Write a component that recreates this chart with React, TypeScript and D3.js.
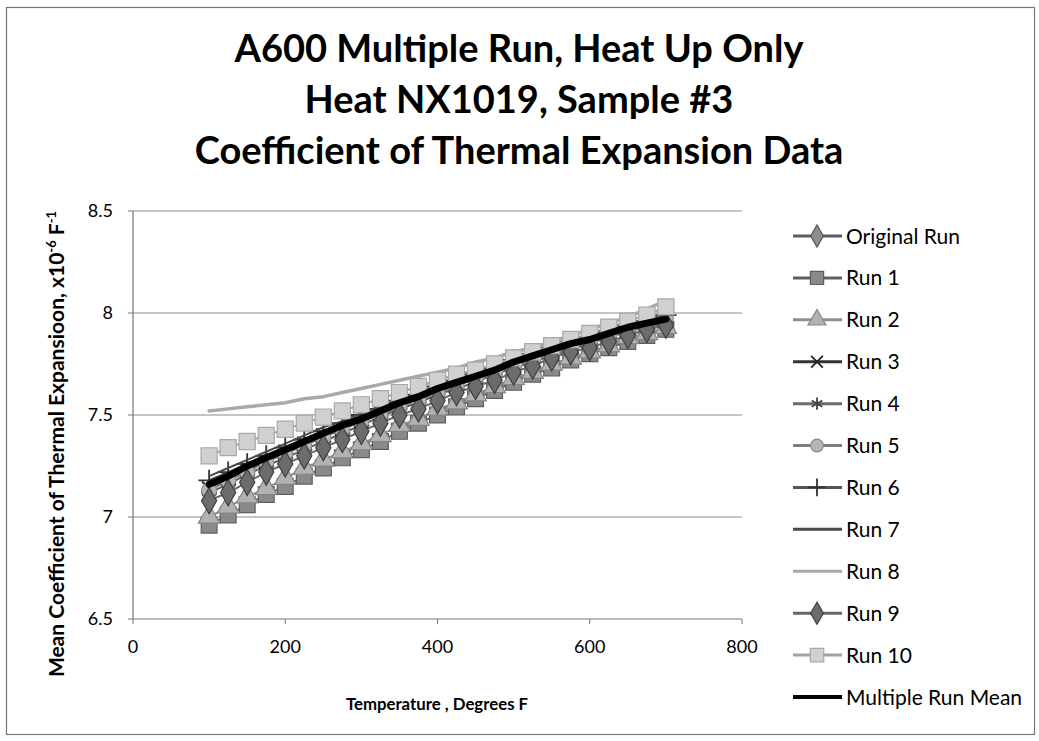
import React from "react";
import * as d3 from "d3";

// Temperatures (deg F) at which each run was sampled
const temps = [100, 125, 150, 175, 200, 225, 250, 275, 300, 325, 350, 375, 400, 425, 450, 475, 500, 525, 550, 575, 600, 625, 650, 675, 700];

// Mean CTE values, x10^-6 /F
const originalRun = [7.12, 7.16, 7.21, 7.25, 7.29, 7.33, 7.37, 7.41, 7.45, 7.49, 7.53, 7.56, 7.60, 7.63, 7.66, 7.70, 7.73, 7.76, 7.79, 7.82, 7.85, 7.88, 7.91, 7.93, 7.95];
const run1 = [6.96, 7.01, 7.06, 7.11, 7.15, 7.20, 7.24, 7.29, 7.33, 7.37, 7.42, 7.46, 7.50, 7.54, 7.58, 7.62, 7.66, 7.70, 7.73, 7.77, 7.80, 7.83, 7.86, 7.89, 7.92];
const run2 = [7.00, 7.05, 7.10, 7.14, 7.19, 7.24, 7.28, 7.32, 7.36, 7.40, 7.45, 7.48, 7.53, 7.56, 7.60, 7.64, 7.68, 7.71, 7.75, 7.78, 7.81, 7.84, 7.88, 7.90, 7.93];
const run3 = [7.14, 7.19, 7.23, 7.27, 7.32, 7.36, 7.40, 7.43, 7.47, 7.51, 7.54, 7.58, 7.61, 7.65, 7.68, 7.71, 7.74, 7.77, 7.80, 7.83, 7.86, 7.89, 7.92, 7.94, 7.96];
const run4 = [7.15, 7.20, 7.24, 7.28, 7.33, 7.37, 7.41, 7.44, 7.48, 7.52, 7.55, 7.59, 7.62, 7.65, 7.69, 7.72, 7.75, 7.78, 7.81, 7.84, 7.87, 7.89, 7.92, 7.95, 7.97];
const run5 = [7.13, 7.18, 7.22, 7.27, 7.31, 7.35, 7.39, 7.43, 7.47, 7.50, 7.54, 7.57, 7.61, 7.64, 7.68, 7.71, 7.74, 7.77, 7.80, 7.83, 7.86, 7.89, 7.92, 7.95, 7.98];
const run6 = [7.18, 7.22, 7.26, 7.30, 7.34, 7.38, 7.42, 7.46, 7.50, 7.53, 7.57, 7.60, 7.64, 7.67, 7.70, 7.73, 7.77, 7.80, 7.83, 7.86, 7.88, 7.91, 7.94, 7.96, 7.99];
const run7 = [7.20, 7.24, 7.28, 7.32, 7.36, 7.40, 7.44, 7.47, 7.51, 7.54, 7.58, 7.61, 7.65, 7.68, 7.71, 7.74, 7.77, 7.80, 7.83, 7.86, 7.89, 7.92, 7.95, 7.97, 8.00];
const run8 = [7.52, 7.53, 7.54, 7.55, 7.56, 7.58, 7.59, 7.61, 7.63, 7.65, 7.67, 7.69, 7.71, 7.73, 7.76, 7.78, 7.81, 7.83, 7.86, 7.89, 7.92, 7.95, 7.98, 8.02, 8.06];
const run9 = [7.08, 7.12, 7.17, 7.22, 7.26, 7.30, 7.34, 7.38, 7.42, 7.46, 7.50, 7.53, 7.57, 7.61, 7.64, 7.67, 7.71, 7.74, 7.78, 7.81, 7.83, 7.86, 7.89, 7.92, 7.94];
const run10 = [7.30, 7.34, 7.37, 7.40, 7.43, 7.46, 7.49, 7.52, 7.55, 7.58, 7.61, 7.64, 7.67, 7.70, 7.72, 7.75, 7.78, 7.81, 7.84, 7.87, 7.90, 7.93, 7.96, 7.99, 8.03];
const multipleRunMean = [7.16, 7.20, 7.25, 7.29, 7.33, 7.37, 7.41, 7.45, 7.48, 7.52, 7.56, 7.59, 7.63, 7.66, 7.69, 7.72, 7.76, 7.79, 7.82, 7.85, 7.87, 7.90, 7.93, 7.95, 7.97];

const seriesNames = ["Original Run", "Run 1", "Run 2", "Run 3", "Run 4", "Run 5", "Run 6", "Run 7", "Run 8", "Run 9", "Run 10", "Multiple Run Mean"];
const seriesValues = [originalRun, run1, run2, run3, run4, run5, run6, run7, run8, run9, run10, multipleRunMean];

const xTicks = [0, 200, 400, 600, 800];
const yTicks = [6.5, 7, 7.5, 8, 8.5];

const titleLines = ["A600 Multiple Run, Heat Up Only", "Heat NX1019, Sample #3", "Coefficient of Thermal Expansion Data"];

type Style = {
  line: string;
  width: number;
  symbol?: d3.SymbolType;
  size?: number;
  fill?: string;
  stroke?: string;
  strokeOnly?: boolean;
};

const styles: Style[] = [
  { line: "#5c5c5c", width: 2, symbol: d3.symbolDiamond, size: 200, fill: "#8e8e8e", stroke: "#555" },
  { line: "#606060", width: 2, symbol: d3.symbolSquare, size: 250, fill: "#8a8a8a", stroke: "#5e5e5e" },
  { line: "#8e8e8e", width: 2, symbol: d3.symbolTriangle, size: 200, fill: "#b2b2b2", stroke: "#858585" },
  { line: "#333333", width: 2, symbol: d3.symbolX, size: 130, stroke: "#222", strokeOnly: true },
  { line: "#6a6a6a", width: 2, symbol: d3.symbolAsterisk, size: 150, stroke: "#444", strokeOnly: true },
  { line: "#7e7e7e", width: 2, symbol: d3.symbolCircle, size: 180, fill: "#b6b6b6", stroke: "#888" },
  { line: "#555555", width: 2, symbol: d3.symbolPlus, size: 150, stroke: "#333", strokeOnly: true },
  { line: "#4a4a4a", width: 2 },
  { line: "#a9a9a9", width: 3.5 },
  { line: "#676767", width: 2, symbol: d3.symbolDiamond, size: 200, fill: "#6c6c6c", stroke: "#404040" },
  { line: "#a2a2a2", width: 2, symbol: d3.symbolSquare, size: 260, fill: "#d0d0d0", stroke: "#a8a8a8" },
  { line: "#000000", width: 7 },
];

const FONT = "Lato, 'Open Sans', sans-serif";

export default function App() {
  const x = d3.scaleLinear().domain([0, 800]).range([133, 742]);
  const y = d3.scaleLinear().domain([6.5, 8.5]).range([619, 211]);
  const legendY = d3.scalePoint<string>().domain(seriesNames).range([236, 697]);

  const line = d3
    .line<number>()
    .x((_, i) => x(temps[i]))
    .y((v) => y(v));

  const markerPath = (s: Style, scale = 1) =>
    s.symbol ? d3.symbol(s.symbol, (s.size ?? 100) * scale)() ?? "" : "";

  const renderMarker = (s: Style, cx: number, cy: number, key: React.Key, scale = 1) =>
    s.symbol ? (
      <path
        key={key}
        d={markerPath(s, scale)}
        transform={`translate(${cx},${cy})`}
        fill={s.strokeOnly ? "none" : s.fill}
        stroke={s.stroke}
        strokeWidth={s.strokeOnly ? 1.8 : 1.2}
      />
    ) : null;

  return (
    <svg
      width={1039}
      height={741}
      style={{ position: "absolute", left: 0, top: 0, background: "#fff" }}
      fontFamily={FONT}
    >
      <rect x={6.5} y={7.5} width={1028} height={727} fill="#fff" stroke="#777" strokeWidth={1.2} />

      {titleLines.map((t, i) => (
        <text key={t} x={519} y={62 + i * 51} textAnchor="middle" fontSize={38} fontWeight={700} fill="#000">
          {t}
        </text>
      ))}

      {/* gridlines */}
      {yTicks.slice(1).map((v) => (
        <line key={v} x1={x(0)} x2={x(800)} y1={y(v)} y2={y(v)} stroke="#8a8a8a" strokeWidth={1} />
      ))}

      {/* axes */}
      <line x1={x(0)} x2={x(0)} y1={y(8.5)} y2={y(6.5)} stroke="#777" strokeWidth={1.2} />
      <line x1={x(0)} x2={x(800)} y1={y(6.5)} y2={y(6.5)} stroke="#777" strokeWidth={1.2} />
      {yTicks.map((v) => (
        <g key={v}>
          <line x1={x(0) - 5} x2={x(0)} y1={y(v)} y2={y(v)} stroke="#777" />
          <text x={113} y={y(v)} dy="0.36em" textAnchor="end" fontSize={18} fill="#000">
            {v}
          </text>
        </g>
      ))}
      {xTicks.map((v) => (
        <g key={v}>
          <line x1={x(v)} x2={x(v)} y1={y(6.5)} y2={y(6.5) + 5} stroke="#777" />
          <text x={x(v)} y={653} textAnchor="middle" fontSize={18} fill="#000">
            {v}
          </text>
        </g>
      ))}

      <text x={437} y={710} textAnchor="middle" fontSize={16.8} fontWeight={700}>
        Temperature , Degrees F
      </text>
      <text transform="translate(64,444) rotate(-90)" textAnchor="middle" fontSize={21} fontWeight={700}>
        Mean Coefficient of Thermal Expansioon, x10
        <tspan fontSize={13} baselineShift="super">-6</tspan>
        <tspan> F</tspan>
        <tspan fontSize={13} baselineShift="super">-1</tspan>
      </text>

      {/* data series */}
      {seriesValues.map((vals, si) => {
        const s = styles[si];
        return (
          <g key={seriesNames[si]}>
            <path
              d={line(vals) ?? ""}
              fill="none"
              stroke={s.line}
              strokeWidth={s.width}
              strokeLinecap="round"
              strokeLinejoin="round"
            />
            {vals.map((v, i) => renderMarker(s, x(temps[i]), y(v), i))}
          </g>
        );
      })}

      {/* legend */}
      {seriesNames.map((name, si) => {
        const s = styles[si];
        const ly = legendY(name) ?? 0;
        return (
          <g key={name}>
            <line x1={793} x2={842} y1={ly} y2={ly} stroke={s.line} strokeWidth={si === 11 ? 4 : 3} />
            {renderMarker(s, 817, ly, "m", 0.7)}
            <text x={846} y={ly} dy="0.36em" fontSize={21} fill="#000">
              {name}
            </text>
          </g>
        );
      })}
    </svg>
  );
}
